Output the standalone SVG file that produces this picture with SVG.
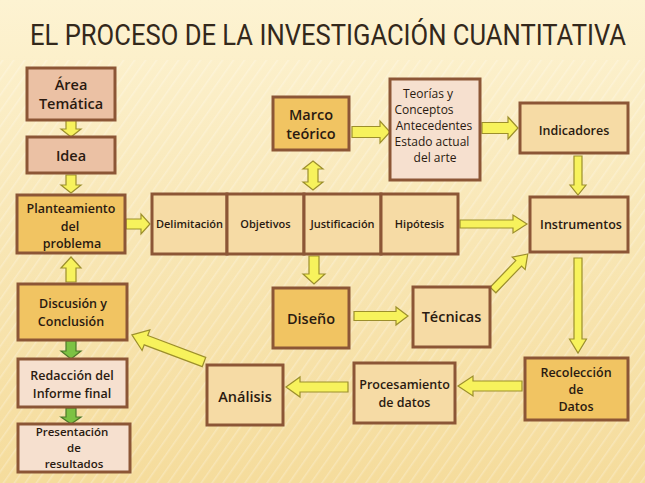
<svg xmlns="http://www.w3.org/2000/svg" width="645" height="483" viewBox="0 0 645 483">
<defs>
<linearGradient id="bg" x1="0" y1="0" x2="0" y2="1">
<stop offset="0" stop-color="#fdf3d2"/>
<stop offset="0.5" stop-color="#f8e6b4"/>
<stop offset="1" stop-color="#f5dc9c"/>
</linearGradient>
<pattern id="stripes" width="9" height="9" patternUnits="userSpaceOnUse" patternTransform="rotate(35)">
<rect width="9" height="9" fill="none"/>
<line x1="0" y1="0" x2="0" y2="9" stroke="#ffffff" stroke-width="3" opacity="0.25"/>
</pattern>
<style>
.box{stroke:#8c5636;stroke-width:3}
.gold{fill:#f1c462}
.tan{fill:#f6dba5}
.salmon{fill:#ebc1a4}
.pink{fill:#f6e0cf}
.t{font-family:"Open Sans","Liberation Sans",sans-serif;font-weight:600;fill:#2a1a10;text-anchor:middle}
.r{font-weight:400}
.s15{font-size:14.5px}
.s13{font-size:12.5px}
.s12{font-size:12px}
.s115{font-size:11.5px}
.s11{font-size:11px}
.ya{fill:#f7f25c;stroke:#9c8f2c;stroke-width:1.2;stroke-linejoin:miter}
.ga{fill:#7cc243;stroke:#4d782a;stroke-width:1.2}
</style>
</defs>
<rect width="645" height="483" fill="url(#bg)"/>
<rect y="60" width="645" height="423" fill="url(#stripes)"/>
<text x="30" y="39" transform="scale(1,1.154)" textLength="596" lengthAdjust="spacingAndGlyphs" font-family="Roboto,'Liberation Sans',sans-serif" font-size="26" fill="#33281b">EL PROCESO DE LA INVESTIGACIÓN CUANTITATIVA</text>

<g id="connectors">
<polygon class="ya" transform="translate(71,120) rotate(90)" points="0,-5 9,-5 9,-10 17,0 9,10 9,5 0,5"/>
<polygon class="ya" transform="translate(71,175) rotate(90)" points="0,-5 10,-5 10,-10 18,0 10,10 10,5 0,5"/>
<polygon class="ya" transform="translate(126,224)" points="0,-5 15,-5 15,-10 24,0 15,10 15,5 0,5"/>
<polygon class="ya" transform="translate(71,282) rotate(-90)" points="0,-5 14,-5 14,-10 25,0 14,10 14,5 0,5"/>
<polygon class="ya" transform="translate(313,161) rotate(90)" points="0,0 8,-10 8,-5 21,-5 21,-10 29,0 21,10 21,5 8,5 8,10"/>
<polygon class="ya" transform="translate(352,132)" points="0,-5.5 28,-5.5 28,-11 38,0 28,11 28,5.5 0,5.5"/>
<polygon class="ya" transform="translate(482,128)" points="0,-5.5 26,-5.5 26,-11 36,0 26,11 26,5.5 0,5.5"/>
<polygon class="ya" transform="translate(578,156) rotate(90)" points="0,-4 29,-4 29,-8 39,0 29,8 29,4 0,4"/>
<polygon class="ya" transform="translate(460,224)" points="0,-4 53,-4 53,-9 67,0 53,9 53,4 0,4"/>
<polygon class="ya" transform="translate(493,290) rotate(-46)" points="0,-4 37,-4 37,-9 50,0 37,9 37,4 0,4"/>
<polygon class="ya" transform="translate(578,258) rotate(90)" points="0,-4 81,-4 81,-8.5 95,0 81,8.5 81,4 0,4"/>
<polygon class="ya" transform="translate(314,256) rotate(90)" points="0,-5 18,-5 18,-11 28,0 18,11 18,5 0,5"/>
<polygon class="ya" transform="translate(354,316)" points="0,-4.5 42,-4.5 42,-9 54,0 42,9 42,4.5 0,4.5"/>
<polygon class="ya" transform="translate(522,386) rotate(180)" points="0,-5 49,-5 49,-10 64,0 49,10 49,5 0,5"/>
<polygon class="ya" transform="translate(348,387) rotate(180)" points="0,-5 48,-5 48,-10 62,0 48,10 48,5 0,5"/>
<polygon class="ya" transform="translate(204,362) rotate(200.6)" points="0,-5 62,-5 62,-11 77,0 62,11 62,5 0,5"/>
<polygon class="ga" transform="translate(71,341) rotate(90)" points="0,-5 10,-5 10,-10 18,0 10,10 10,5 0,5"/>
<polygon class="ga" transform="translate(71,408) rotate(90)" points="0,-5 9,-5 9,-10 16,0 9,10 9,5 0,5"/>
</g>

<g id="area">
<rect class="box salmon" x="27" y="68" width="88" height="52"/>
<text class="t s15" x="71" y="90">Área</text>
<text class="t s15" x="71" y="109">Temática</text>
</g>
<g id="idea">
<rect class="box salmon" x="27" y="137" width="88" height="36"/>
<text class="t s15" x="71" y="161">Idea</text>
</g>
<g id="planteamiento">
<rect class="box gold" x="17" y="195" width="108" height="58"/>
<text class="t s13" x="71" y="213">Planteamiento</text>
<text class="t s13" x="70" y="231">del</text>
<text class="t s13" x="72" y="248">problema</text>
</g>
<g id="discusion">
<rect class="box gold" x="18" y="284" width="109" height="56"/>
<text class="t s13" x="73" y="308">Discusión  y</text>
<text class="t s13" x="71" y="326">Conclusión</text>
</g>
<g id="redaccion">
<rect class="box pink" x="18" y="359" width="109" height="48"/>
<text class="t s13" x="72" y="380">Redacción del</text>
<text class="t s13" x="72" y="398">Informe final</text>
</g>
<g id="presentacion">
<rect class="box pink" x="18" y="424" width="112" height="48"/>
<text class="t s115" x="72" y="436">Presentación</text>
<text class="t s115" x="74" y="452">de</text>
<text class="t s115" x="74" y="468">resultados</text>
</g>
<g id="delimitacion">
<rect class="box tan" x="152" y="194" width="75" height="60"/>
<text class="t s11" x="189.5" y="228">Delimitación</text>
</g>
<g id="objetivos">
<rect class="box tan" x="227" y="194" width="77" height="60"/>
<text class="t s11" x="265.5" y="228">Objetivos</text>
</g>
<g id="justificacion">
<rect class="box tan" x="304" y="194" width="77" height="60"/>
<text class="t s11" x="342.5" y="228">Justificación</text>
</g>
<g id="hipotesis">
<rect class="box tan" x="381" y="194" width="77" height="60"/>
<text class="t s11" x="419.5" y="228">Hipótesis</text>
</g>
<g id="marco">
<rect class="box gold" x="273" y="97" width="76" height="53"/>
<text class="t s15" x="311" y="120">Marco</text>
<text class="t s15" x="311" y="139">teórico</text>
</g>
<g id="teorias">
<rect class="box pink" x="390" y="79" width="90" height="101"/>
<text class="t s12 r" x="428" y="98">Teorías y</text>
<text class="t s12 r" x="424" y="114">Conceptos</text>
<text class="t s12 r" x="434" y="130">Antecedentes</text>
<text class="t s12 r" x="432" y="146">Estado actual</text>
<text class="t s12 r" x="435" y="162">del arte</text>
</g>
<g id="indicadores">
<rect class="box tan" x="520" y="103" width="108" height="50"/>
<text class="t s13" x="574" y="135">Indicadores</text>
</g>
<g id="instrumentos">
<rect class="box tan" x="530" y="197" width="98" height="55"/>
<text class="t s13" x="581" y="229">Instrumentos</text>
</g>
<g id="diseno">
<rect class="box gold" x="273" y="288" width="76" height="60"/>
<text class="t s15" x="311" y="324">Diseño</text>
</g>
<g id="tecnicas">
<rect class="box tan" x="413" y="287" width="77" height="60"/>
<text class="t s15" x="451.5" y="322">Técnicas</text>
</g>
<g id="recoleccion">
<rect class="box gold" x="525" y="358" width="103" height="62"/>
<text class="t s13" x="576" y="377">Recolección</text>
<text class="t s13" x="576" y="394">de</text>
<text class="t s13" x="576" y="411">Datos</text>
</g>
<g id="procesamiento">
<rect class="box tan" x="354" y="363" width="101" height="60"/>
<text class="t s13" x="404.5" y="389">Procesamiento</text>
<text class="t s13" x="404.5" y="407">de datos</text>
</g>
<g id="analisis">
<rect class="box tan" x="207" y="365" width="76" height="60"/>
<text class="t s15" x="245" y="402">Análisis</text>
</g>
</svg>
